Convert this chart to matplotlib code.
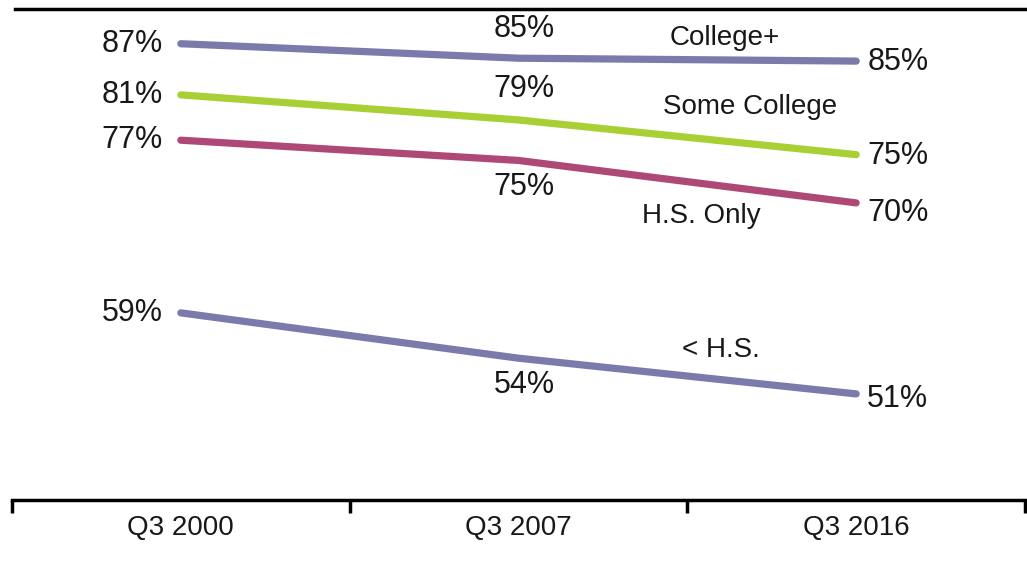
import numpy as np
import matplotlib
matplotlib.use("Agg")
import matplotlib.pyplot as plt

plt.rcParams['font.family'] = ['Liberation Sans', 'DejaVu Sans']

quarters = ['Q3 2000', 'Q3 2007', 'Q3 2016']
series = ['College+', 'Some College', 'H.S. Only', '< H.S.']
college = [86.9, 85.4, 85.1]
some_college = [81.6, 79.0, 75.4]
hs_only = [76.9, 74.8, 70.4]
less_hs = [59.0, 54.3, 50.6]
college_lbl = ['87%', '85%', '85%']
some_college_lbl = ['81%', '79%', '75%']
hs_only_lbl = ['77%', '75%', '70%']
less_hs_lbl = ['59%', '54%', '51%']

colors = ['#7a7bab', '#a8cf34', '#ae4977', '#7a7bab']
# offsets (points) of the middle value label: above or below the line
mid_dy = [21, 22, -19, -19]
end_dy = [-1, -1, -7, -4]
# name label positions (data coords)
name_pos = [(1.61, 87.5), (1.685, 80.3), (1.54, 69.0), (1.60, 55.2)]

fig = plt.figure(figsize=(10.27, 5.70), dpi=100)
ax = fig.add_axes([12/1027, 70/570, 1013/1027, 491/570])

x = np.arange(len(quarters))
data = [college, some_college, hs_only, less_hs]
labels = [college_lbl, some_college_lbl, hs_only_lbl, less_hs_lbl]
txt = '#1a1718'
for i, (vals, lbls) in enumerate(zip(data, labels)):
    ax.plot(x, vals, color=colors[i], lw=5.2, solid_capstyle='round', solid_joinstyle='round')
    ax.annotate(lbls[0], (x[0], vals[0]), xytext=(-13, 0), textcoords='offset points',
                ha='right', va='center', fontsize=22, color=txt)
    ax.annotate(lbls[1], (x[1], vals[1]), xytext=(4, mid_dy[i]), textcoords='offset points',
                ha='center', va='center', fontsize=22, color=txt)
    ax.annotate(lbls[2], (x[2], vals[2]), xytext=(8, end_dy[i]), textcoords='offset points',
                ha='left', va='center', fontsize=22, color=txt)
    ax.text(name_pos[i][0], name_pos[i][1], series[i], ha='center', va='center',
            fontsize=20, color=txt)

ax.set_xlim(-0.5, 2.5)
ax.set_ylim(39.6, 90.5)
ax.set_xticks(x)
ax.set_xticklabels(quarters, fontsize=20, color=txt)
ax.set_xticks([-0.5, 0.5, 1.5, 2.5], minor=True)
ax.tick_params(axis='x', which='major', length=0, pad=11)
ax.tick_params(axis='x', which='minor', length=9, width=2.5, direction='out', color='black')
ax.set_yticks([])
for s in ['left', 'right']:
    ax.spines[s].set_visible(False)
ax.spines['bottom'].set_linewidth(2.5)
ax.spines['top'].set_linewidth(2.5)
ax.spines['top'].set_bounds(-0.49, 2.5)

fig.savefig('out.png', dpi=100)
